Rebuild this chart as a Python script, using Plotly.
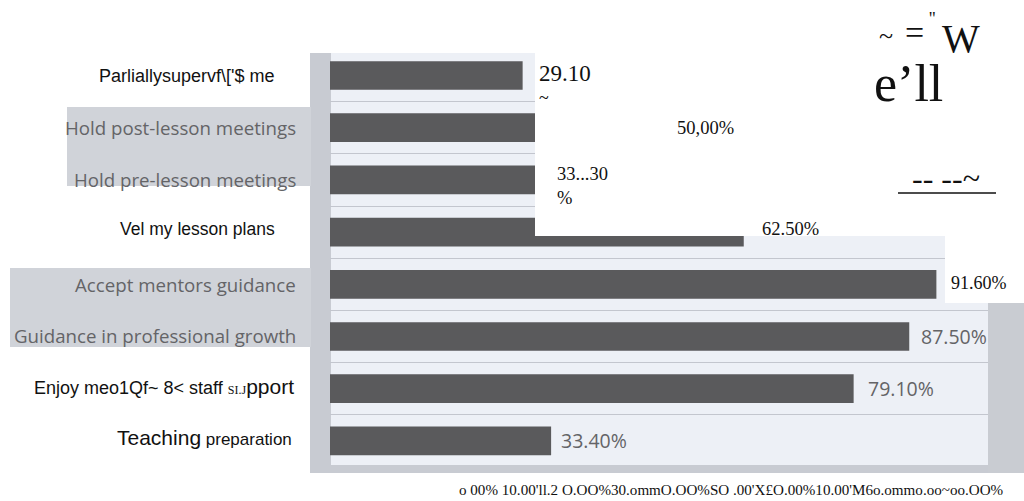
import plotly.graph_objects as go

# Survey items (top to bottom) and the share of respondents agreeing
categories = [
    "Parliallysupervf\\['$ me",
    "Hold post-lesson meetings",
    "Hold pre-lesson meetings",
    "Vel my lesson plans",
    "Accept mentors guidance",
    "Guidance in professional growth",
    "Enjoy meo1Qf~ 8< staff SI.Jpport",
    "Teaching preparation",
]
values = [29.1, 50.0, 33.3, 62.5, 91.6, 87.5, 79.1, 33.4]
value_labels = ["29.10<br>~", "50,00%", "33...30<br>%", "62.50%",
                "91.60%", "87.50%", "79.10%", "33.40%"]
axis_text = "o 00% 10.00'll.2 O.OO%30.ommO.OO%SO .00'X£O.00%10.00'M6o.ommo.oo~oo.OO%"

W, H = 1024, 501
L, R, T, B = 330, 992, 41, 467


def px(x):
    return (x - L) / (R - L)


def py(y):
    return (B - y) / (B - T)


SANS = "Liberation Sans, Arial, sans-serif"
SERIF = "Liberation Serif, Times New Roman, serif"
SOFT = "Open Sans, sans-serif"
GRAY_TXT = "#646467"

fig = go.Figure(go.Bar(
    x=values,
    y=categories,
    orientation="h",
    width=0.55,
    marker=dict(color="#5a5a5c", line=dict(width=0)),
    hoverinfo="skip",
))

shapes = []


def rect(x0, y0, x1, y1, color, layer="below"):
    shapes.append(dict(type="rect", xref="paper", yref="paper",
                       x0=px(x0), x1=px(x1), y0=py(y1), y1=py(y0),
                       fillcolor=color, line=dict(width=0), layer=layer))


# panel background and frame
rect(330, 53, 990, 465, "#edf0f6")
rect(310, 53, 331, 473, "#c8cbd2")
rect(310, 465, 990, 473, "#c8cbd2", layer="above")
rect(988, 303, 1024, 473, "#c9ccd2", layer="above")
# label backdrops
rect(67, 107, 311, 186, "#d0d3d9")
rect(10, 268, 311, 347, "#d0d3d9")
# blank areas over the panel
rect(329, 0, 1024, 53, "#ffffff", layer="above")
rect(535, 0, 1024, 236, "#ffffff", layer="above")
rect(945, 236, 1024, 303, "#ffffff", layer="above")
# rule under the dashes
shapes.append(dict(type="line", xref="paper", yref="paper",
                   x0=px(898), x1=px(996), y0=py(193), y1=py(193),
                   line=dict(color="#111111", width=1.5), layer="above"))

annotations = []

# category labels
label_styles = [
    dict(font=dict(family=SANS, size=18, color="#111111"), x=277),
    dict(font=dict(family=SOFT, size=18.7, color=GRAY_TXT), x=298),
    dict(font=dict(family=SOFT, size=18.7, color=GRAY_TXT), x=298),
    dict(font=dict(family=SANS, size=17.5, color="#111111"), x=277),
    dict(font=dict(family=SOFT, size=18.7, color=GRAY_TXT), x=298),
    dict(font=dict(family=SOFT, size=18.7, color=GRAY_TXT), x=298),
    dict(font=dict(family=SANS, size=18, color="#111111"), x=296),
    dict(font=dict(family=SANS, size=17, color="#111111"), x=294),
]
label_texts = list(categories)
label_texts[6] = ("Enjoy meo1Qf~ 8< staff "
                  "<span style='font-family:Liberation Serif;font-size:12px'>SI.J</span>"
                  "<span style='font-size:21px'>pport</span>")
label_texts[7] = "<span style='font-size:21px'>Teaching</span> preparation"
label_yshift = [0, 0, 0, 3, 0, 1, 2, 3]
for cat, txt, st, ys in zip(categories, label_texts, label_styles, label_yshift):
    annotations.append(dict(x=px(st["x"]), xref="paper", y=cat, yref="y",
                            text=txt, showarrow=False, xanchor="right",
                            yanchor="middle", font=st["font"], yshift=ys))

# value labels placed at the end of each bar
val_styles = [
    (dict(family=SERIF, size=18, color="#111111"), 14, -9),
    (dict(family=SERIF, size=18.5, color="#111111"), 14, 0),
    (dict(family=SERIF, size=18.5, color="#111111"), 5, -6),
    (dict(family=SERIF, size=18.5, color="#111111"), 16, 3),
    (dict(family=SERIF, size=18, color="#111111"), 13, 1),
    (dict(family=SOFT, size=19.5, color=GRAY_TXT), 10, 0),
    (dict(family=SOFT, size=19.5, color=GRAY_TXT), 12, 0),
    (dict(family=SOFT, size=19.5, color=GRAY_TXT), 8, 0),
]
for cat, v, txt, (font, xs, ys) in zip(categories, values, value_labels, val_styles):
    if txt.startswith("29.10"):
        txt = "<span style='font-size:23px'>29.10</span><br>~"
    annotations.append(dict(x=v, xref="x", y=cat, yref="y", text=txt,
                            showarrow=False, xanchor="left", yanchor="middle",
                            align="left", xshift=xs, yshift=ys, font=font))


# stray glyphs in the upper right
def glyph(text, x, y, size, anchor="center"):
    annotations.append(dict(x=px(x), y=py(y), xref="paper", yref="paper",
                            text=text, showarrow=False, xanchor=anchor,
                            yanchor="middle",
                            font=dict(family=SERIF, size=size, color="#111111")))


glyph("e\u2019ll", 908, 83, 52)
glyph("~", 886, 36, 26)
glyph("=", 914, 33, 34)
glyph("''", 932, 19, 18)
glyph("W", 961, 38, 40)
glyph("-- --~", 946, 178, 32)

# bottom axis text
annotations.append(dict(x=px(457), y=py(490), xref="paper", yref="paper",
                        text=axis_text, showarrow=False, xanchor="left",
                        yanchor="middle",
                        font=dict(family=SERIF, size=15.1, color="#111111")))

fig.update_layout(
    width=W, height=H,
    margin=dict(l=L, r=W - R, t=T, b=H - B, pad=0),
    paper_bgcolor="#ffffff",
    plot_bgcolor="rgba(0,0,0,0)",
    showlegend=False,
    bargap=0.45,
    shapes=shapes,
    annotations=annotations,
    xaxis=dict(range=[0, 100], showgrid=False, zeroline=False,
               showticklabels=False, ticks="", showline=False, fixedrange=True),
    yaxis=dict(categoryorder="array", categoryarray=categories,
               autorange="reversed", showticklabels=False, ticks="",
               showgrid=True, gridcolor="#c3c6ce", gridwidth=1,
               tickson="boundaries", zeroline=False, showline=False,
               fixedrange=True),
)

fig.write_html("out.html", config={"displayModeBar": False})
